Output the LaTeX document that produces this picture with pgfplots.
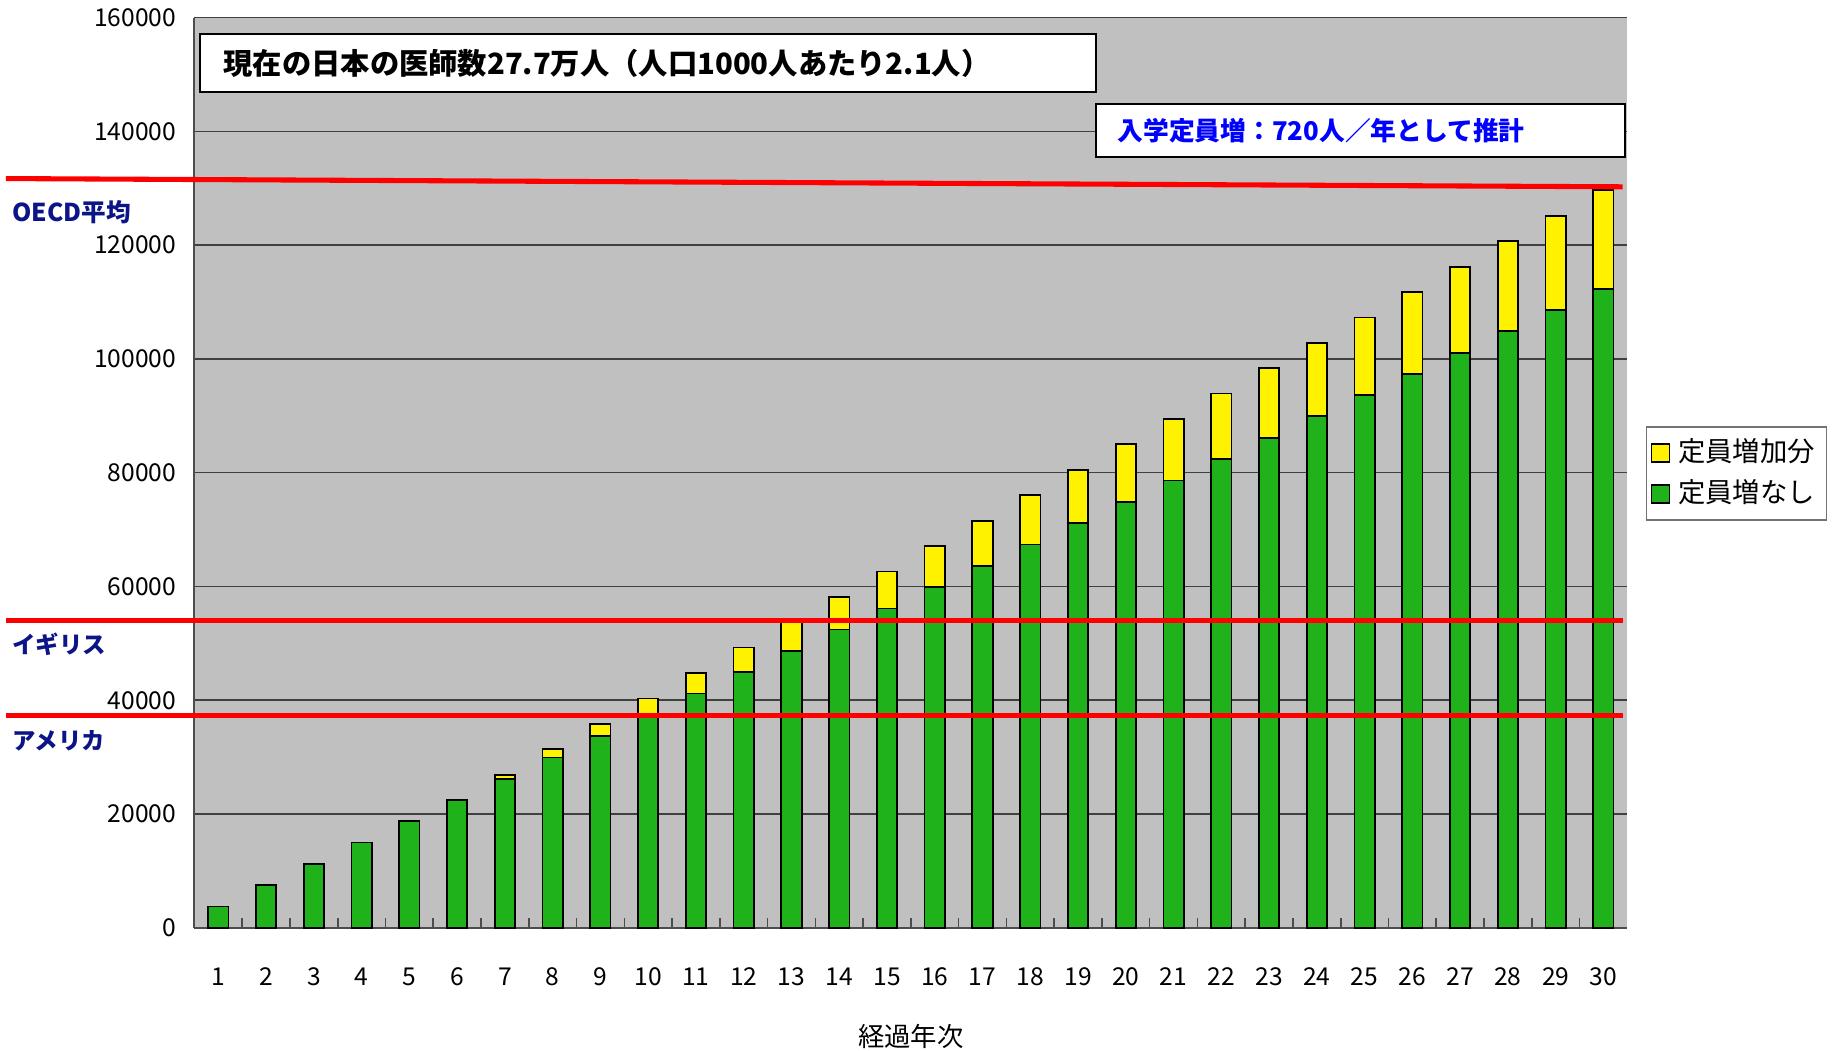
\documentclass[border=0pt]{standalone}
\usepackage{fontspec}
\setmainfont{Noto Sans CJK JP}
\usepackage{pgfplots}
\pgfplotsset{compat=1.18}
\definecolor{bggray}{RGB}{192,192,192}
\definecolor{bargreen}{RGB}{31,178,26}
\definecolor{baryellow}{RGB}{255,242,0}
\definecolor{navy}{RGB}{12,20,135}
\definecolor{textblue}{RGB}{0,0,255}
\pgfplotsset{sqlegend/.style={legend image code/.code={\draw[##1, draw=black, line width=0.45pt] (0pt,-2.3pt) rectangle (4.6pt,2.3pt);}}}
\begin{document}
\begin{tikzpicture}
\useasboundingbox (-49.8pt,-31.5pt) rectangle (420.6pt,237.6pt);
\begin{axis}[
  at={(0,0)}, anchor=south west,
  scale only axis, width=366.9pt, height=233.1pt,
  xmin=0.5, xmax=30.5, ymin=0, ymax=160000,
  ybar stacked, bar width=5.2pt,
  axis background/.style={fill=bggray},
  axis x line*=bottom, axis y line*=left,
  axis line style={-, draw=black!70, line width=0.5pt},
  xtick={1,...,30},
  minor xtick={1.5,2.5,...,29.5},
  major x tick style={draw=none},
  minor x tick style={draw=black!70, line width=0.4pt},
  minor tick length=2.5pt,
  tick align=inside,
  ytick={0,20000,...,160000},
  major y tick style={draw=none},
  ymajorgrids, major grid style={draw=black!75, line width=0.4pt},
  scaled y ticks=false,
  yticklabel style={/pgf/number format/fixed, /pgf/number format/1000 sep={}, /pgf/number format/assume math mode=true, font=\fontsize{6.3}{7}\selectfont, xshift=-1.2pt},
  xticklabel style={/pgf/number format/assume math mode=true, font=\fontsize{6.3}{7}\selectfont, anchor=base, yshift=-14.7pt},
  xlabel={経過年次},
  xlabel style={at={(axis description cs:0.5,0)}, anchor=base, yshift=-30.5pt, font=\fontsize{6.75}{8}\selectfont},
  clip=false,
  legend style={at={(1.013,0.551)}, anchor=north west, draw=black!55, line width=0.4pt, font=\fontsize{7}{8}\selectfont, inner sep=1pt, row sep=-1pt},
  legend cell align=left,
  reverse legend,
]
\addplot[fill=bargreen, draw=black, line width=0.45pt, sqlegend]
coordinates {
(1,3750) (2,7500) (3,11250) (4,15000) (5,18750) (6,22450) (7,26200) (8,29950) (9,33700) (10,37450)
(11,41200) (12,44950) (13,48700) (14,52450) (15,56150) (16,59900) (17,63650) (18,67400) (19,71150) (20,74900)
(21,78650) (22,82400) (23,86150) (24,89900) (25,93600) (26,97350) (27,101100) (28,104850) (29,108600) (30,112350)
};
\addlegendentry{定員増なし}
\addplot[fill=baryellow, draw=black, line width=0.45pt, sqlegend]
coordinates {
(1,0) (2,0) (3,0) (4,0) (5,0) (6,0) (7,720) (8,1440) (9,2160) (10,2880)
(11,3600) (12,4320) (13,5040) (14,5760) (15,6480) (16,7200) (17,7920) (18,8640) (19,9360) (20,10080)
(21,10800) (22,11520) (23,12240) (24,12960) (25,13680) (26,14400) (27,15120) (28,15840) (29,16560) (30,17280)
};
\addlegendentry{定員増加分}
\end{axis}
\begin{axis}[
  at={(0,0)}, anchor=south west,
  scale only axis, width=366.9pt, height=233.1pt,
  xmin=0.5, xmax=30.5, ymin=0, ymax=160000,
  hide axis, clip=false,
]
\addplot[red, line width=1.3pt] coordinates {(-3.45,131700) (30.4,130250)};
\addplot[red, line width=1.3pt] coordinates {(-3.45,54100) (30.4,54100)};
\addplot[red, line width=1.3pt] coordinates {(-3.45,37400) (30.4,37400)};
\node[anchor=west, text=navy, font=\bfseries\fontsize{6.3}{7}\selectfont, inner sep=0pt] at (axis cs:-3.33,125800) {OECD平均};
\node[anchor=west, text=navy, font=\bfseries\fontsize{6}{7}\selectfont, inner sep=0pt] at (axis cs:-3.33,49800) {イギリス};
\node[anchor=west, text=navy, font=\bfseries\fontsize{6}{7}\selectfont, inner sep=0pt] at (axis cs:-3.33,32900) {アメリカ};
\node[draw=black, line width=0.5pt, fill=white, anchor=north west, minimum height=15pt, inner xsep=6pt, text width=217.5pt, align=left, font=\bfseries\fontsize{7.5}{9}\selectfont] at (axis description cs:0.00327,0.9833) {現在の日本の医師数27.7万人（人口1000人あたり2.1人）};
\node[draw=black, line width=0.5pt, fill=white, anchor=north west, minimum height=13.5pt, inner xsep=5.4pt, text width=124.5pt, align=left, text=textblue, font=\bfseries\fontsize{6.6}{8}\selectfont] at (axis description cs:0.6288,0.9060) {入学定員増：720人／年として推計};
\end{axis}
\end{tikzpicture}
\end{document}
